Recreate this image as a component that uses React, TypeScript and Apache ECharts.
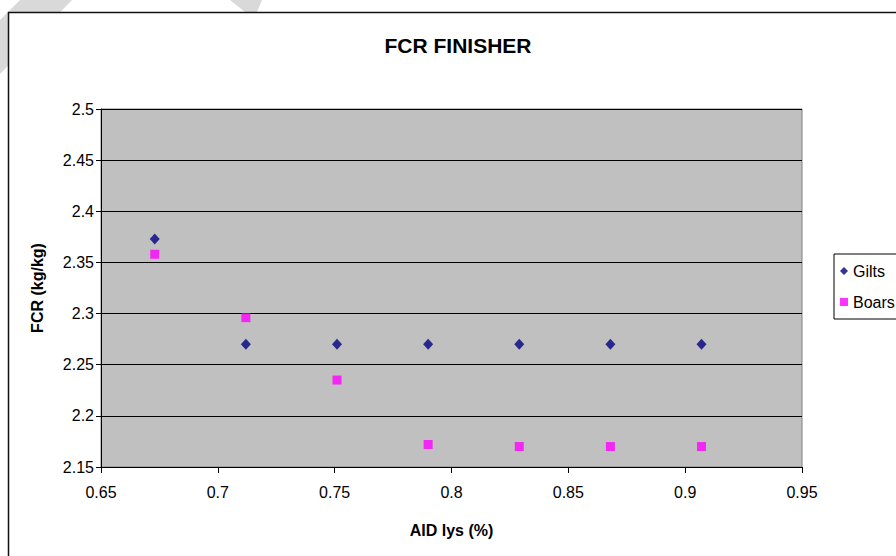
import React, { useEffect, useRef } from "react";
import * as echarts from "echarts";

const xValues = [0.673, 0.712, 0.751, 0.79, 0.829, 0.868, 0.907];
const gilts = [2.373, 2.27, 2.27, 2.27, 2.27, 2.27, 2.27];
const boars = [2.358, 2.296, 2.235, 2.172, 2.17, 2.17, 2.17];
const seriesNames = ["Gilts", "Boars"];
const titleText = "FCR FINISHER";
const xName = "AID lys (%)";
const yName = "FCR (kg/kg)";

const FONT = "'Liberation Sans', Arial, sans-serif";

export default function App() {
  const ref = useRef<HTMLDivElement>(null);
  useEffect(() => {
    if (!ref.current) return;
    const chart = echarts.init(ref.current, undefined, { renderer: "svg" });
    const pair = (ys: number[]) => xValues.map((x, i) => [x, ys[i]]);
    chart.setOption({
      animation: false,
      backgroundColor: "#ffffff",
      textStyle: { fontFamily: FONT },
      graphic: [
        {
          type: "polygon",
          silent: true,
          z: -10,
          shape: { points: [[20, 0], [72, 0], [0, 74], [0, 20]] },
          style: { fill: "#d9d9d9" },
        },
        {
          type: "polygon",
          silent: true,
          z: -10,
          shape: { points: [[230, 0], [262, 0], [257, 12], [245, 12]] },
          style: { fill: "#d9d9d9" },
        },
        {
          type: "rect",
          silent: true,
          z: -5,
          shape: { x: 8.5, y: 12.5, width: 1000, height: 1000 },
          style: { fill: "#ffffff", stroke: "#111", lineWidth: 1.5 },
        },
        {
          type: "text",
          x: 458,
          y: 45,
          style: {
            text: titleText,
            font: `bold 21px ${FONT}`,
            fill: "#000",
            textAlign: "center",
            textVerticalAlign: "middle",
          },
        },
      ],
      legend: {
        orient: "vertical",
        left: 834,
        top: 254,
        data: seriesNames,
        selectedMode: false,
        backgroundColor: "#ffffff",
        borderColor: "#000",
        borderWidth: 1,
        borderRadius: 0,
        padding: [9, 12, 9, 6],
        itemWidth: 8,
        itemHeight: 8,
        itemGap: 15,
        textStyle: { fontSize: 16, color: "#000", fontFamily: FONT, lineHeight: 16 },
      },
      grid: {
        left: 101,
        right: 94,
        top: 109,
        bottom: 89,
        show: true,
        backgroundColor: "#c0c0c0",
        borderColor: "#808080",
        borderWidth: 1,
      },
      xAxis: {
        type: "value",
        min: 0.65,
        max: 0.95,
        interval: 0.05,
        name: xName,
        nameLocation: "middle",
        nameGap: 55,
        nameTextStyle: { fontSize: 16, fontWeight: "bold", color: "#000", fontFamily: FONT },
        axisLine: { show: true, onZero: false, lineStyle: { color: "#000", width: 1 } },
        axisTick: { show: true, length: 6, lineStyle: { color: "#000" } },
        axisLabel: { fontSize: 16, color: "#000", margin: 17, fontFamily: FONT },
        splitLine: { show: false },
      },
      yAxis: {
        type: "value",
        min: 2.15,
        max: 2.5,
        interval: 0.05,
        name: yName,
        nameLocation: "middle",
        nameGap: 56,
        nameTextStyle: { fontSize: 16, fontWeight: "bold", color: "#000", fontFamily: FONT },
        axisLine: { show: true, onZero: false, lineStyle: { color: "#000", width: 1 } },
        axisTick: { show: true, length: 5, lineStyle: { color: "#000" } },
        axisLabel: { fontSize: 16, color: "#000", margin: 7, fontFamily: FONT },
        splitLine: { show: true, lineStyle: { color: "#000", width: 1 } },
      },
      series: [
        {
          name: seriesNames[0],
          type: "scatter",
          symbol: "diamond",
          symbolSize: [10, 11],
          itemStyle: { color: "#000080" },
          data: pair(gilts),
        },
        {
          name: seriesNames[1],
          type: "scatter",
          symbol: "rect",
          symbolSize: [9, 9],
          itemStyle: { color: "#ff00ff" },
          data: pair(boars),
        },
      ],
    });
    return () => chart.dispose();
  }, []);
  return (
    <div
      ref={ref}
      style={{ position: "fixed", left: 0, top: 0, width: 896, height: 556 }}
    />
  );
}
